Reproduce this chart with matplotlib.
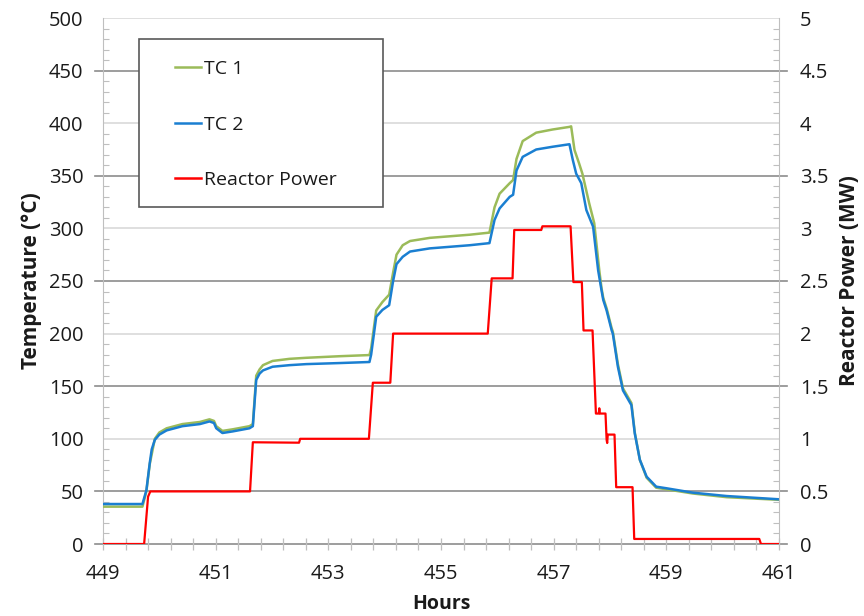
import numpy as np
import matplotlib
matplotlib.use("Agg")
import matplotlib.pyplot as plt
from matplotlib.patches import Rectangle
from matplotlib.lines import Line2D

plt.rcParams['font.family'] = ['Open Sans', 'DejaVu Sans']

# ---- data -----------------------------------------------------------------
tc2_hours = [449.0, 449.70, 449.77, 449.83, 449.865, 449.92, 450.0, 450.13, 450.41,
             450.72, 450.89, 450.97, 451.01, 451.12, 451.30, 451.60, 451.66, 451.72,
             451.78, 451.84, 452.01, 452.31, 452.61, 453.2, 453.73, 453.76, 453.85,
             453.96, 454.08, 454.15, 454.21, 454.32, 454.45, 454.80, 455.51, 455.86,
             455.95, 456.04, 456.22, 456.28, 456.34, 456.45, 456.69, 456.98, 457.28,
             457.34, 457.40, 457.49, 457.58, 457.70, 457.79, 457.85, 457.88, 457.94,
             458.03, 458.05, 458.14, 458.23, 458.38, 458.44, 458.53, 458.65, 458.82,
             459.0, 459.47, 460.07, 461.0]
tc2_temp = [38, 38, 51, 77, 90, 99, 104, 108, 112,
            114, 116.5, 115, 110, 105.5, 107, 110, 112, 156,
            162, 165, 168.5, 170, 171, 172, 173, 180, 216,
            222.5, 227, 250, 266, 273, 278, 281, 284, 286,
            308, 319, 330, 332, 355, 368, 375, 377.6, 380,
            365, 352, 343, 317.5, 301.6, 260, 241, 232, 222,
            203, 200, 168.5, 146, 132, 105, 80, 64, 54.5,
            53, 48.8, 45.6, 42.5]

tc1_hours = [449.0, 449.70, 449.77, 449.83, 449.92, 450.0, 450.13, 450.41, 450.72,
             450.89, 450.97, 451.01, 451.12, 451.30, 451.60, 451.66, 451.72, 451.78,
             451.84, 452.01, 452.31, 452.61, 453.2, 453.73, 453.76, 453.85, 453.96,
             454.08, 454.15, 454.21, 454.32, 454.45, 454.80, 455.51, 455.86, 455.95,
             456.04, 456.22, 456.28, 456.34, 456.45, 456.69, 456.98, 457.28, 457.31,
             457.37, 457.45, 457.51, 457.63, 457.72, 457.81, 457.85, 457.88, 457.94,
             458.03, 458.05, 458.14, 458.23, 458.38, 458.44, 458.53, 458.65, 458.82,
             459.0, 459.47, 460.07, 461.0]
tc1_temp = [35.5, 35.5, 50, 76, 100, 106, 110, 114, 116,
            118.5, 117, 112, 107.5, 109, 112, 114, 160, 166,
            170, 174, 176, 177, 178.5, 179.6, 186, 222, 230,
            237, 258, 275, 284, 288, 291, 294, 296, 320,
            333, 343, 346, 366, 383, 391, 394, 396.5, 397,
            374.5, 362, 352, 324, 305, 260, 243, 234, 224,
            205, 202, 171, 148, 134, 106, 80, 63, 53.5,
            52, 48, 44.5, 42]

power_hours = [449.0, 449.73, 449.80, 449.84, 451.61, 451.66, 452.48, 452.50, 453.72,
               453.79, 454.10, 454.15, 455.83, 455.90, 456.27, 456.30, 456.78, 456.80,
               457.30, 457.35, 457.50, 457.53, 457.69, 457.75, 457.80, 457.81, 457.82,
               457.92, 457.94, 457.95, 457.96, 458.08, 458.11, 458.40, 458.43, 460.65,
               460.68, 461.0]
power_mw = [0.0, 0.0, 0.45, 0.50, 0.50, 0.967, 0.963, 1.0, 1.0,
            1.533, 1.533, 2.0, 2.0, 2.525, 2.525, 2.985, 2.985, 3.02,
            3.02, 2.49, 2.49, 2.03, 2.03, 1.24, 1.24, 1.29, 1.24,
            1.24, 0.99, 0.96, 1.04, 1.04, 0.54, 0.54, 0.048, 0.048,
            0.0, 0.0]

hour_ticks = np.arange(449, 461.01, 0.4)
hour_labels = ['449', '451', '453', '455', '457', '459', '461']
temp_ticks = np.arange(0, 501, 50)
power_ticks = np.arange(0, 5.01, 0.5)
power_labels = ['0', '0.5', '1', '1.5', '2', '2.5', '3', '3.5', '4', '4.5', '5']

# ---- figure ---------------------------------------------------------------
W, H = 864, 616
fig = plt.figure(figsize=(W / 100, H / 100), dpi=100)
ax = fig.add_axes([103 / W, 72 / H, 676 / W, 526 / H])
ax2 = ax.twinx()

ax.set_xlim(449, 461)
ax.set_ylim(0, 500)
ax2.set_ylim(0, 5)

light = '#d9d9d9'
dark = '#8c8c8c'
spine_c = '#bfbfbf'
txt = '#1a1a1a'

# grid: light lines at every 100, darker lines at the 50 offsets reaching past the axes
ext = 8 / 676
for y in range(100, 501, 100):
    ax.axhline(y, color=light, lw=1.2, zorder=0)
for y in [0, 50, 150, 250, 350, 450]:
    ax.axhline(y, xmin=-ext, xmax=1 + ext, color=dark, lw=1.2, zorder=0.5, clip_on=False)

for a in (ax, ax2):
    for s in ('top', 'bottom'):
        a.spines[s].set_visible(False)
    a.spines['left'].set_color(spine_c)
    a.spines['right'].set_color(spine_c)
ax.spines['right'].set_visible(False)
ax2.spines['left'].set_visible(False)

# x ticks every 0.4 h, labels every 2 h
ax.set_xticks(hour_ticks)
lab_iter = iter(hour_labels)
ax.set_xticklabels([next(lab_iter) if i % 5 == 0 else '' for i in range(len(hour_ticks))])
ax.tick_params(axis='x', direction='inout', length=8.5, width=0.9, color=spine_c,
               pad=10, labelsize=14.5, labelcolor=txt)

ax.set_yticks(temp_ticks)
ax.set_yticks(np.arange(0, 501, 10), minor=True)
ax.tick_params(axis='y', which='major', length=0, pad=14, labelsize=14.5, labelcolor=txt)
ax.tick_params(axis='y', which='minor', direction='in', length=4, width=0.8, color=spine_c)

ax2.set_yticks(power_ticks)
ax2.set_yticklabels(power_labels)
ax2.set_yticks(np.arange(0, 5.01, 0.1), minor=True)
ax2.tick_params(axis='y', which='major', length=0, pad=15, labelsize=14.5, labelcolor=txt)
ax2.tick_params(axis='y', which='minor', direction='in', length=4, width=0.8, color=spine_c)

# series
green = '#9bbb59'
blue = '#1a7fd1'
red = '#ff0000'
ax.plot(tc1_hours, tc1_temp, color=green, lw=1.8, zorder=3)
ax.plot(tc2_hours, tc2_temp, color=blue, lw=1.8, zorder=4)
ax2.plot(power_hours, power_mw, color=red, lw=1.6, zorder=3)

# axis titles
ax.set_xlabel('Hours', fontsize=14, fontweight='bold', color=txt, va='center')
ax.xaxis.set_label_coords(0.5, -0.114)
ax.set_ylabel('Temperature (°C)', fontsize=15, fontweight='bold', color=txt, va='center')
ax.yaxis.set_label_coords(-0.1065, 0.5)
ax2.set_ylabel('Reactor Power (MW)', fontsize=15, fontweight='bold', color=txt, va='center')
ax2.yaxis.set_label_coords(1.105, 0.5)

# legend with a framed box
handles = [Line2D([], [], color=green, lw=1.8),
           Line2D([], [], color=blue, lw=1.8),
           Line2D([], [], color=red, lw=1.8)]
leg = fig.legend(handles, ['TC 1', 'TC 2', 'Reactor Power'], frameon=False,
                 loc='upper left', bbox_to_anchor=(175 / W, 1 - 60 / H),
                 borderaxespad=0, borderpad=0, fontsize=14, handlelength=1.35,
                 handletextpad=0.15, labelspacing=1.93, labelcolor=txt)
fig.add_artist(Rectangle((139 / W, 1 - 207 / H), (383 - 139) / W, (207 - 39) / H,
                         transform=fig.transFigure, facecolor='white',
                         edgecolor='#595959', lw=1.2, zorder=1))
leg.set_zorder(2)

fig.savefig('out.png', dpi=100, facecolor='white')
